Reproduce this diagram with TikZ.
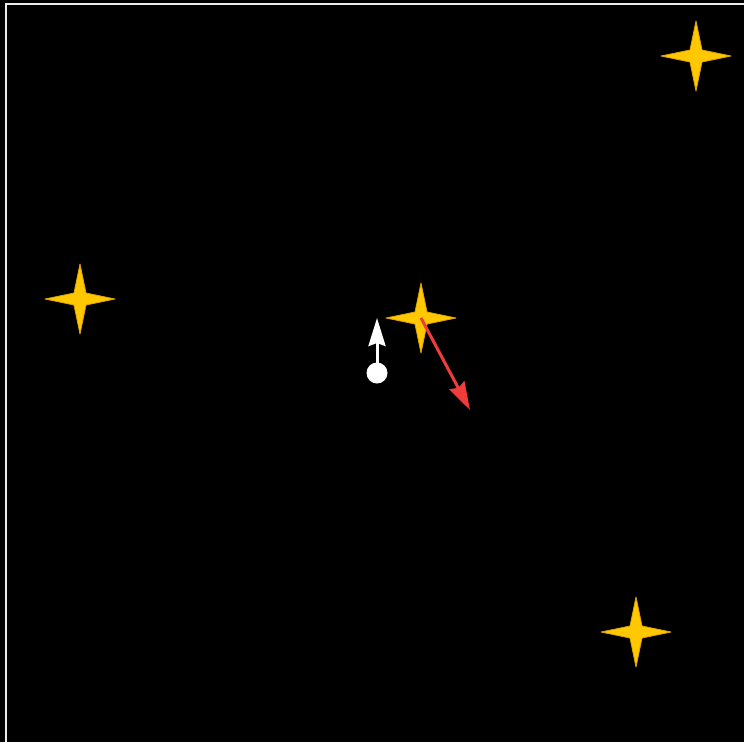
\documentclass[tikz,border=0pt]{standalone}
\usetikzlibrary{arrows.meta}
\definecolor{gold}{HTML}{FFC800}
\definecolor{goldedge}{HTML}{E0A400}
\definecolor{arrowred}{HTML}{F03C3C}
\tikzset{
  sparkle/.pic={
    \fill[gold, draw=goldedge, line width=0.8pt, line join=round]
      (0,-35) -- (6,-6) -- (35,0) -- (6,6) -- (0,35) -- (-6,6) -- (-35,0) -- (-6,-6) -- cycle;
  },
  vec/.style={line width=3pt, -{Stealth[length=28pt, width=17pt, inset=3pt]}},
}
\begin{document}
\begin{tikzpicture}[x=1pt, y=-1pt]
  \useasboundingbox (0,0) rectangle (744,742);
  \fill[black] (0,0) rectangle (744,742);
  \draw[white!92!black, line width=2pt] (6,742) -- (6,4) -- (744,4);
  \coordinate (s1) at (696,56);
  \coordinate (s2) at (80,299);
  \coordinate (s3) at (421,318);
  \coordinate (s4) at (636,632);
  \pic at (s1) {sparkle};
  \pic at (s2) {sparkle};
  \pic at (s3) {sparkle};
  \pic at (s4) {sparkle};
  \node[circle, fill=white, minimum size=21pt, inner sep=0pt] (dot) at (377,373) {};
  \coordinate (wtip) at (377,318);
  \coordinate (rtip) at (470,410);
  \draw[vec, white] (dot.center) -- (wtip);
  \draw[vec, arrowred] (s3) -- (rtip);
\end{tikzpicture}
\end{document}
